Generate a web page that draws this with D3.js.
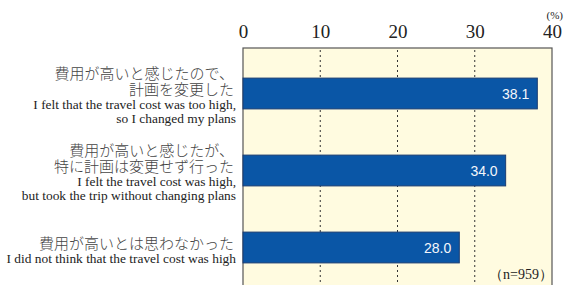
<!DOCTYPE html>
<html>
<head>
<meta charset="utf-8">
<script src="https://cdn.jsdelivr.net/npm/d3@7"></script>
<style>
    body { margin: 0; background: #fff; }
</style>
</head>
<body>
<script>
// chart data
var categories = ["changed", "went", "notHigh"];
var jpLabels = [
    ["費用が高いと感じたので、", "計画を変更した"],
    ["費用が高いと感じたが、", "特に計画は変更せず行った"],
    ["費用が高いとは思わなかった"]
];
var enLabels = [
    ["I felt that the travel cost was too high,", "so I changed my plans"],
    ["I felt the travel cost was high,", "but took the trip without changing plans"],
    ["I did not think that the travel cost was high"]
];
var values = [38.1, 34.0, 28.0];
var tickValues = [0, 10, 20, 30, 40];
var sampleNote = "（n=959）";

window.onload = drawChart();

function drawChart() {
    var width = 564,
        height = 285;

    var svg = d3.select("body")
        .append("svg")
        .attr("width", width)
        .attr("height", height);

    var plotLeft = 243, plotRight = 552, plotTop = 48, plotBottom = 292;

    var x = d3.scaleLinear()
        .domain([0, 40])
        .range([plotLeft, plotRight]);

    var y = d3.scaleBand()
        .domain(categories)
        .range([55, 286])
        .paddingInner(0.6)
        .paddingOuter(0.3);

    // plot background
    svg.append("rect")
        .attr("x", plotLeft)
        .attr("y", plotTop)
        .attr("width", plotRight - plotLeft)
        .attr("height", plotBottom - plotTop)
        .style("fill", "#fffbe0")
        .style("stroke", "#555")
        .style("stroke-width", 1.2);

    // dotted grid lines
    svg.selectAll(".grid")
        .data(tickValues.slice(1, -1))
        .enter()
        .append("line")
        .attr("class", "grid")
        .attr("x1", function(d) { return x(d); })
        .attr("x2", function(d) { return x(d); })
        .attr("y1", plotTop + 2)
        .attr("y2", plotBottom)
        .style("stroke", "#333")
        .style("stroke-width", 1)
        .style("stroke-dasharray", "2,3");

    // top axis, labels only
    var axis = d3.axisTop(x)
        .tickValues(tickValues)
        .tickSize(0)
        .tickPadding(10);

    var gAxis = svg.append("g")
        .attr("transform", "translate(0," + plotTop + ")")
        .call(axis);
    gAxis.select(".domain").remove();
    gAxis.selectAll("text")
        .style("font-family", "'Liberation Serif', serif")
        .style("font-size", "19px")
        .style("fill", "#222");

    svg.append("text")
        .attr("x", 563)
        .attr("y", 19)
        .attr("text-anchor", "end")
        .style("font-family", "'Liberation Serif', serif")
        .style("font-size", "11px")
        .style("fill", "#222")
        .text("(%)");

    // bars
    svg.selectAll(".bar")
        .data(values)
        .enter()
        .append("rect")
        .attr("class", "bar")
        .attr("x", x(0))
        .attr("y", function(d, i) { return y(categories[i]); })
        .attr("width", function(d) { return x(d) - x(0); })
        .attr("height", y.bandwidth())
        .style("fill", "#0a56a6")
        .style("stroke", "#1b3d73")
        .style("stroke-width", 1);

    // value labels
    svg.selectAll(".val")
        .data(values)
        .enter()
        .append("text")
        .attr("class", "val")
        .attr("x", function(d) { return x(d) - 8; })
        .attr("y", function(d, i) { return y(categories[i]) + y.bandwidth() / 2 + 5; })
        .attr("text-anchor", "end")
        .style("font-family", "'Liberation Sans', Arial, sans-serif")
        .style("font-size", "14px")
        .style("fill", "#f4f6fb")
        .text(function(d) { return d.toFixed(1); });

    // category labels: Japanese lines end at bar middle, English below
    categories.forEach(function(c, i) {
        var mid = y(c) + y.bandwidth() / 2;
        var jp = jpLabels[i], en = enLabels[i];
        var g = svg.append("g").attr("class", "catLabel");
        jp.forEach(function(t, k) {
            g.append("text")
                .attr("x", 234)
                .attr("y", mid + 1 - (jp.length - 1 - k) * 16)
                .attr("text-anchor", "end")
                .style("font-family", "'Noto Sans CJK JP', sans-serif")
                .style("font-weight", 300)
                .style("font-size", "15px")
                .style("fill", "#444")
                .text(t);
        });
        en.forEach(function(t, k) {
            g.append("text")
                .attr("x", 236)
                .attr("y", mid + 15 + k * 14)
                .attr("text-anchor", "end")
                .style("font-family", "'Liberation Serif', serif")
                .style("font-size", "13.4px")
                .style("fill", "#222")
                .text(t);
        });
    });

    // sample size
    svg.append("text")
        .attr("x", 553)
        .attr("y", 279)
        .attr("text-anchor", "end")
        .style("font-family", "'Liberation Serif', serif")
        .style("font-size", "14px")
        .style("fill", "#222")
        .text(sampleNote);
}
</script>
</body>
</html>
